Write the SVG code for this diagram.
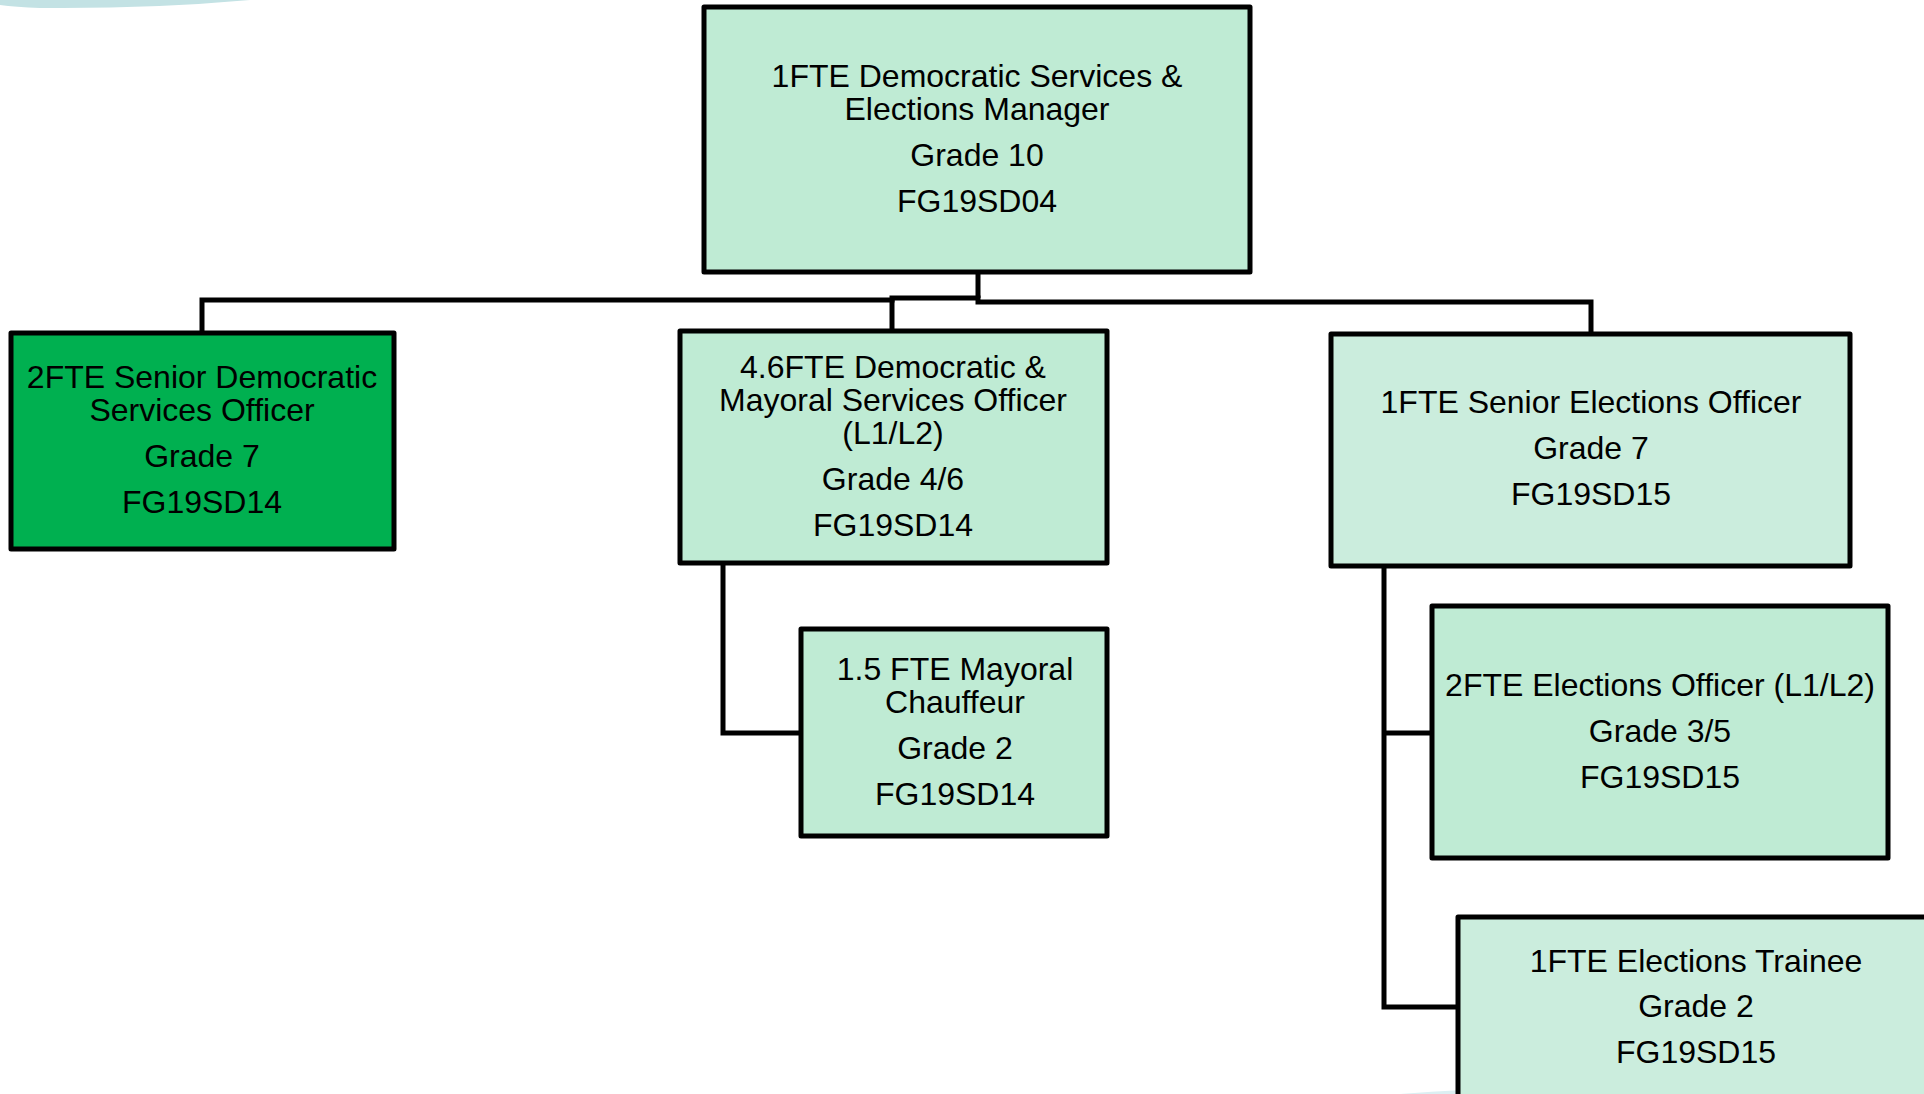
<svg xmlns="http://www.w3.org/2000/svg" width="1924" height="1094" viewBox="0 0 1924 1094">
<style>
.box{stroke:#000;stroke-width:5;stroke-linejoin:round}
.lt{fill:#BFEBD4}
.lt2{fill:#CBEDDD}
.dk{fill:#00B050}
.t{font-family:"Liberation Sans",Arial,sans-serif;font-size:32px;fill:#000;text-anchor:middle}
.c{fill:none;stroke:#000;stroke-width:5;stroke-linejoin:miter}
</style>
<rect width="1924" height="1094" fill="#fff"/>
<path d="M0 0 H250 Q150 9 40 8 Q15 7 0 5 Z" fill="#C3E2E4"/>
<path d="M1400 1094 Q1500 1086 1600 1088 L1924 1094 Z" fill="#DCEFF2"/>
<g id="connectors">
<path class="c" d="M978 272 V298"/>
<path class="c" d="M202 333 V300 H892 V298 H978 V302 H1591 V334"/>
<path class="c" d="M892 298 V331"/>
<path class="c" d="M723 563 V733 H801"/>
<path class="c" d="M1384 566 V1007 H1458"/>
<path class="c" d="M1384 733 H1432"/>
</g>
<g id="n-manager">
<rect class="box lt" x="704" y="7" width="546" height="265"/>
<text class="t" x="977" y="87">1FTE Democratic Services &amp;</text>
<text class="t" x="977" y="120">Elections Manager</text>
<text class="t" x="977" y="166">Grade 10</text>
<text class="t" x="977" y="212">FG19SD04</text>
</g>
<g id="n-senior-dso">
<rect class="box dk" x="11" y="333" width="383" height="216"/>
<text class="t" x="202" y="388">2FTE Senior Democratic</text>
<text class="t" x="202" y="421">Services Officer</text>
<text class="t" x="202" y="467">Grade 7</text>
<text class="t" x="202" y="513">FG19SD14</text>
</g>
<g id="n-dmso">
<rect class="box lt" x="680" y="331" width="427" height="232"/>
<text class="t" x="893" y="378">4.6FTE Democratic &amp;</text>
<text class="t" x="893" y="411">Mayoral Services Officer</text>
<text class="t" x="893" y="444">(L1/L2)</text>
<text class="t" x="893" y="490">Grade 4/6</text>
<text class="t" x="893" y="536">FG19SD14</text>
</g>
<g id="n-chauffeur">
<rect class="box lt" x="801" y="629" width="306" height="207"/>
<text class="t" x="955" y="680">1.5 FTE Mayoral</text>
<text class="t" x="955" y="713">Chauffeur</text>
<text class="t" x="955" y="759">Grade 2</text>
<text class="t" x="955" y="805">FG19SD14</text>
</g>
<g id="n-senior-eo">
<rect class="box lt2" x="1331" y="334" width="519" height="232"/>
<text class="t" x="1591" y="413">1FTE Senior Elections Officer</text>
<text class="t" x="1591" y="459">Grade 7</text>
<text class="t" x="1591" y="505">FG19SD15</text>
</g>
<g id="n-eo">
<rect class="box lt" x="1432" y="606" width="456" height="252"/>
<text class="t" x="1660" y="696">2FTE Elections Officer (L1/L2)</text>
<text class="t" x="1660" y="742">Grade 3/5</text>
<text class="t" x="1660" y="788">FG19SD15</text>
</g>
<g id="n-trainee">
<rect class="box lt2" x="1458" y="917" width="480" height="190"/>
<text class="t" x="1696" y="972">1FTE Elections Trainee</text>
<text class="t" x="1696" y="1017">Grade 2</text>
<text class="t" x="1696" y="1063">FG19SD15</text>
</g>
</svg>
